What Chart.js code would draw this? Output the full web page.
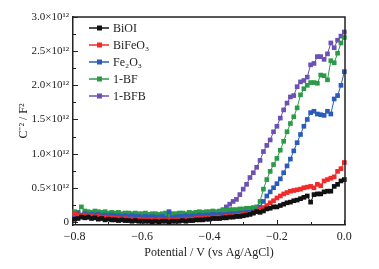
<!DOCTYPE html>
<html>
<head>
<meta charset="utf-8">
<script src="https://cdn.jsdelivr.net/npm/chart.js@4"></script>
<style>
html, body { margin: 0; padding: 0; background: #fff; }
#wrap { width: 379px; height: 269px; }
</style>
</head>
<body>
<div id="wrap"><canvas id="myChart" width="379" height="269"></canvas></div>
<script>
// Potencial (V vs Ag/AgCl)
const potencial = [
  -0.80, -0.79, -0.78, -0.77, -0.76, -0.75, -0.74, -0.73, -0.72, -0.71,
  -0.70, -0.69, -0.68, -0.67, -0.66, -0.65, -0.64, -0.63, -0.62, -0.61,
  -0.60, -0.59, -0.58, -0.57, -0.56, -0.55, -0.54, -0.53, -0.52, -0.51,
  -0.50, -0.49, -0.48, -0.47, -0.46, -0.45, -0.44, -0.43, -0.42, -0.41,
  -0.40, -0.39, -0.38, -0.37, -0.36, -0.35, -0.34, -0.33, -0.32, -0.31,
  -0.30, -0.29, -0.28, -0.27, -0.26, -0.25, -0.24, -0.23, -0.22, -0.21,
  -0.20, -0.19, -0.18, -0.17, -0.16, -0.15, -0.14, -0.13, -0.12, -0.11,
  -0.10, -0.09, -0.08, -0.07, -0.06, -0.05, -0.04, -0.03, -0.02, -0.01, 0.00
];

// C^-2 en unidades de 10^12 F^-2
const biOI = [
  0.04, 0.05, 0.07, 0.06, 0.07, 0.05, 0.06, 0.04, 0.05, 0.03,
  0.04, 0.03, 0.03, 0.02, 0.03, 0.02, 0.02, 0.01, 0.02, 0.01,
  0.01, 0.01, 0.01, 0.00, 0.01, 0.00, 0.01, 0.01, 0.00, 0.01,
  0.01, 0.01, 0.02, 0.01, 0.02, 0.02, 0.03, 0.03, 0.03, 0.04,
  0.04, 0.05, 0.05, 0.05, 0.06, 0.06, 0.07, 0.07, 0.08, 0.08,
  0.09, 0.10, 0.11, 0.13, 0.15, 0.14, 0.16, 0.19, 0.20, 0.22,
  0.22, 0.24, 0.26, 0.28, 0.29, 0.31, 0.32, 0.34, 0.36, 0.38,
  0.29, 0.40, 0.41, 0.41, 0.44, 0.45, 0.45, 0.52, 0.55, 0.60, 0.62
];
const biFeO3 = [
  0.12, 0.10, 0.08, 0.10, 0.07, 0.09, 0.07, 0.08, 0.06, 0.07,
  0.06, 0.06, 0.05, 0.05, 0.04, 0.05, 0.04, 0.04, 0.03, 0.04,
  0.03, 0.03, 0.03, 0.03, 0.02, 0.03, 0.02, 0.02, 0.03, 0.02,
  0.03, 0.03, 0.03, 0.04, 0.04, 0.04, 0.05, 0.05, 0.05, 0.06,
  0.06, 0.06, 0.07, 0.07, 0.07, 0.08, 0.08, 0.09, 0.09, 0.10,
  0.11, 0.11, 0.12, 0.13, 0.15, 0.19, 0.21, 0.24, 0.28, 0.31,
  0.35, 0.38, 0.41, 0.43, 0.45, 0.46, 0.47, 0.48, 0.50, 0.51,
  0.52, 0.50, 0.55, 0.53, 0.60, 0.62, 0.64, 0.66, 0.74, 0.78, 0.87
];
const fe2O3 = [
  0.11, 0.13, 0.10, 0.12, 0.10, 0.11, 0.10, 0.11, 0.09, 0.10,
  0.09, 0.10, 0.09, 0.09, 0.08, 0.09, 0.08, 0.09, 0.08, 0.08,
  0.07, 0.08, 0.07, 0.08, 0.07, 0.07, 0.08, 0.06, 0.15, 0.06,
  0.07, 0.08, 0.08, 0.09, 0.08, 0.09, 0.09, 0.10, 0.09, 0.10,
  0.10, 0.11, 0.10, 0.11, 0.11, 0.11, 0.12, 0.12, 0.12, 0.13,
  0.13, 0.14, 0.14, 0.15, 0.16, 0.22, 0.30, 0.38, 0.44, 0.50,
  0.56, 0.63, 0.72, 0.82, 0.92, 1.04, 1.16, 1.28, 1.40, 1.50,
  1.60, 1.62, 1.58, 1.57, 1.56, 1.62, 1.58, 1.80, 1.85, 2.00, 2.20
];
const bf1 = [
  0.15, 0.14, 0.22, 0.16, 0.15, 0.14, 0.16, 0.15, 0.14, 0.15,
  0.13, 0.14, 0.13, 0.14, 0.12, 0.13, 0.13, 0.12, 0.13, 0.12,
  0.12, 0.13, 0.11, 0.12, 0.12, 0.11, 0.12, 0.13, 0.11, 0.12,
  0.12, 0.13, 0.13, 0.12, 0.14, 0.13, 0.14, 0.15, 0.14, 0.15,
  0.15, 0.16, 0.15, 0.16, 0.17, 0.17, 0.18, 0.18, 0.18, 0.19,
  0.19, 0.20, 0.20, 0.21, 0.22, 0.30, 0.48, 0.62, 0.74, 0.84,
  0.93, 1.05, 1.18, 1.32, 1.44, 1.54, 1.67, 1.86, 1.95, 2.00,
  2.04, 2.04, 2.03, 2.15, 2.14, 2.08, 2.36, 2.33, 2.47, 2.62, 2.70
];
const bfb1 = [
  0.09, 0.10, 0.09, 0.10, 0.09, 0.09, 0.09, 0.10, 0.08, 0.09,
  0.08, 0.09, 0.08, 0.08, 0.08, 0.08, 0.07, 0.08, 0.07, 0.08,
  0.07, 0.07, 0.07, 0.07, 0.06, 0.07, 0.07, 0.06, 0.07, 0.07,
  0.07, 0.07, 0.08, 0.08, 0.08, 0.08, 0.09, 0.09, 0.09, 0.10,
  0.10, 0.11, 0.13, 0.15, 0.18, 0.22, 0.26, 0.30, 0.33, 0.40,
  0.48, 0.55, 0.65, 0.72, 0.80, 0.90, 1.03, 1.12, 1.20, 1.32,
  1.40, 1.52, 1.64, 1.74, 1.83, 1.85, 1.98, 2.05, 2.07, 2.12,
  2.30, 2.32, 2.42, 2.42, 2.38, 2.46, 2.62, 2.55, 2.66, 2.72, 2.78
];

const nombres = ["BiOI", "BiFeO₃", "Fe₂O₃", "1-BF", "1-BFB"];
const colores = ["#111111", "#f42a2a", "#2b5cb9", "#2c9a48", "#6a51b3"];
const series = [biOI, biFeO3, fe2O3, bf1, bfb1];

const yTicks = [0, 0.5, 1.0, 1.5, 2.0, 2.5, 3.0];
const yTickLabels = ["0", "0.5×10¹²", "1.0×10¹²", "1.5×10¹²", "2.0×10¹²", "2.5×10¹²", "3.0×10¹²"];
const xTicks = [-0.8, -0.6, -0.4, -0.2, 0.0];
const xTickLabels = ["−0.8", "−0.6", "−0.4", "−0.2", "0.0"];

const fuente = "'Liberation Serif', 'Times New Roman', serif";
const tinta = "#222222";

const datasets = series.map((valores, i) => ({
  label: nombres[i],
  data: potencial.map((x, j) => ({ x: x, y: valores[j] })),
  borderColor: colores[i],
  backgroundColor: colores[i],
  borderWidth: 1,
  pointStyle: "rect",
  pointRadius: 3.3,
  pointBorderWidth: 0,
  pointBackgroundColor: colores[i],
  clip: false,
  tension: 0,
}));

// Marco, ticks hacia dentro y leyenda
const marcoPlugin = {
  id: "marco",
  afterDraw(chart) {
    const ctx = chart.ctx;
    const a = chart.chartArea;
    const xs = chart.scales.x;
    const ys = chart.scales.y;
    ctx.save();
    ctx.strokeStyle = tinta;
    ctx.lineWidth = 1.5;
    ctx.beginPath();
    ctx.moveTo(a.left, a.top);
    ctx.lineTo(a.right, a.top);
    ctx.lineTo(a.right, a.bottom);
    ctx.stroke();

    ctx.lineWidth = 1;
    ctx.beginPath();
    for (let k = 0; k <= 8; k++) {
      const px = Math.round(xs.getPixelForValue(-0.8 + k * 0.1)) + 0.5;
      const len = k % 2 === 0 ? 5 : 3;
      ctx.moveTo(px, a.bottom);
      ctx.lineTo(px, a.bottom - len);
    }
    for (let k = 0; k <= 12; k++) {
      const py = Math.round(ys.getPixelForValue(k * 0.25)) + 0.5;
      const len = k % 2 === 0 ? 5 : 3;
      ctx.moveTo(a.left, py);
      ctx.lineTo(a.left + len, py);
    }
    ctx.stroke();

    // leyenda
    const lx = 89, ly = 28, paso = 17;
    ctx.font = "12px " + fuente;
    ctx.textBaseline = "middle";
    chart.data.datasets.forEach((ds, i) => {
      const y = ly + i * paso;
      ctx.strokeStyle = ds.borderColor;
      ctx.lineWidth = 1.5;
      ctx.beginPath();
      ctx.moveTo(lx, y);
      ctx.lineTo(lx + 20, y);
      ctx.stroke();
      ctx.fillStyle = ds.borderColor;
      ctx.fillRect(lx + 8, y - 2.5, 5, 5);
      ctx.fillStyle = tinta;
      ctx.fillText(ds.label, lx + 24, y + 0.5);
    });
    ctx.restore();
  },
};

const ctx = document.getElementById("myChart").getContext("2d");
const miGrafico = new Chart(ctx, {
  type: "line",
  data: { datasets: datasets },
  options: {
    responsive: false,
    animation: false,
    layout: { padding: { top: 17, right: 34, left: 0, bottom: 0 } },
    scales: {
      x: {
        type: "linear",
        min: -0.805,
        max: 0.002,
        afterFit: (scale) => { scale.height = 44; },
        afterBuildTicks: (scale) => { scale.ticks = xTicks.map((v) => ({ value: v })); },
        grid: { display: false, drawTicks: false },
        border: { display: true, color: tinta, width: 1.5 },
        ticks: {
          padding: 5,
          color: tinta,
          font: { family: fuente, size: 12 },
          maxRotation: 0,
          callback: (v) => {
            const i = xTicks.findIndex((t) => Math.abs(t - v) < 1e-6);
            return i >= 0 ? xTickLabels[i] : "";
          },
        },
        title: {
          display: true,
          text: "Potential / V (vs Ag/AgCl)",
          color: tinta,
          font: { family: fuente, size: 12 },
          padding: { top: 0, bottom: 9 },
        },
      },
      y: {
        type: "linear",
        min: -0.045,
        max: 3.0,
        afterFit: (scale) => { scale.width = 73; },
        afterBuildTicks: (scale) => { scale.ticks = yTicks.map((v) => ({ value: v })); },
        grid: { display: false, drawTicks: false },
        border: { display: true, color: tinta, width: 1.5 },
        ticks: {
          padding: 4,
          color: tinta,
          font: { family: fuente, size: 11 },
          callback: (v) => {
            const i = yTicks.findIndex((t) => Math.abs(t - v) < 1e-6);
            return i >= 0 ? yTickLabels[i] : "";
          },
        },
        title: {
          display: true,
          text: "C⁻² / F²",
          color: tinta,
          font: { family: fuente, size: 12 },
          padding: { top: 17, bottom: 0 },
        },
      },
    },
    plugins: {
      legend: { display: false },
      tooltip: { enabled: false },
    },
  },
  plugins: [marcoPlugin],
});
</script>
</body>
</html>
